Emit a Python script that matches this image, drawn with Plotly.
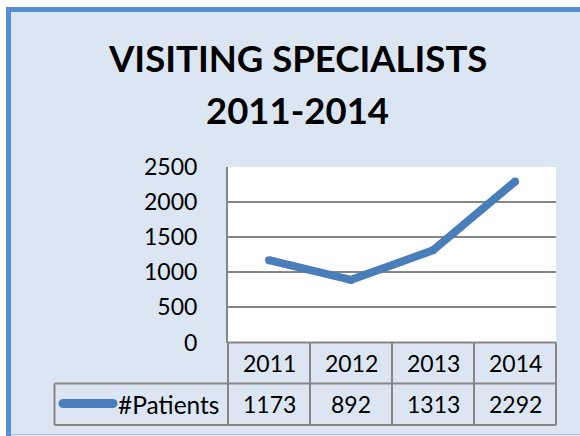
import plotly.graph_objects as go

# ---- data ----
years = ["2011", "2012", "2013", "2014"]
patients = [1173, 892, 1313, 2292]
series_name = "#Patients"
title_lines = ["VISITING SPECIALISTS", "2011-2014"]
y_ticks = [0, 500, 1000, 1500, 2000, 2500]

# ---- layout geometry (pixels) ----
W, H = 580, 436
L, R, T, B = 228, 24, 167, 11
PW, PH = W - L - R, H - T - B
plot_bottom = 342.5
row_mid = 383.5
table_left = 54.5


def px(x):
    return (x - L) / PW


def py(y):
    return (H - B - y) / PH


FONT = "Lato"
LINE_C = "#4a7ebb"
GRID_C = "#868686"
BLUE = "#558ed5"
BG = "#dce6f2"

fig = go.Figure()
fig.add_trace(go.Scatter(
    x=years, y=patients, mode="lines+markers", name=series_name,
    line=dict(color=LINE_C, width=8),
    marker=dict(color=LINE_C, size=8),
    showlegend=False, hoverinfo="x+y",
))

shapes = []
# outer white strips and blue border
shapes.append(dict(type="rect", xref="paper", yref="paper", x0=px(-5), x1=px(W + 5),
                   y0=py(7), y1=py(-5), fillcolor="white", line_width=0))
shapes.append(dict(type="rect", xref="paper", yref="paper", x0=px(-5), x1=px(6),
                   y0=py(H + 5), y1=py(-5), fillcolor="white", line_width=0))
shapes.append(dict(type="line", xref="paper", yref="paper", x0=px(6), x1=px(W + 5),
                   y0=py(9.5), y1=py(9.5), line=dict(color=BLUE, width=5)))
shapes.append(dict(type="line", xref="paper", yref="paper", x0=px(8.5), x1=px(8.5),
                   y0=py(7), y1=py(H + 5), line=dict(color=BLUE, width=5)))
shapes.append(dict(type="line", xref="paper", yref="paper", x0=px(11), x1=px(W + 5),
                   y0=py(434.5), y1=py(434.5), line=dict(color="#aec4e4", width=1)))

# data table grid
n = len(years)
tl = dict(color=GRID_C, width=2)
for i in range(n + 1):
    shapes.append(dict(type="line", xref="paper", yref="paper", x0=i / n, x1=i / n,
                       y0=0, y1=py(plot_bottom), line=tl))
shapes.append(dict(type="line", xref="paper", yref="paper", x0=px(table_left), x1=px(table_left),
                   y0=0, y1=py(row_mid), line=tl))
shapes.append(dict(type="line", xref="paper", yref="paper", x0=0, x1=1,
                   y0=py(plot_bottom), y1=py(plot_bottom), line=tl))
for yy in (row_mid, H - B):
    shapes.append(dict(type="line", xref="paper", yref="paper", x0=px(table_left), x1=1,
                       y0=py(yy), y1=py(yy), line=tl))

# legend key line with round ends
ky = 403.5
shapes.append(dict(type="line", xref="paper", yref="paper", x0=px(63), x1=px(113),
                   y0=py(ky), y1=py(ky), line=dict(color=LINE_C, width=9)))
for cx in (63, 113):
    shapes.append(dict(type="circle", xref="paper", yref="paper",
                       x0=px(cx - 4.5), x1=px(cx + 4.5), y0=py(ky + 4.5), y1=py(ky - 4.5),
                       fillcolor=LINE_C, line_width=0))

annotations = []
# title
for text, yc in zip(title_lines, (58, 109.5)):
    annotations.append(dict(text="<b>%s</b>" % text, xref="paper", yref="paper",
                            x=px(297), y=py(yc), xanchor="center", yanchor="middle",
                            showarrow=False, font=dict(family=FONT, size=36.5, color="black")))
# table texts
tf = dict(family=FONT, size=23, color="black")
for i, (yr, v) in enumerate(zip(years, patients)):
    annotations.append(dict(text=yr, xref="x", yref="paper", x=i, y=py(362.5),
                            xanchor="center", yanchor="middle", showarrow=False, font=tf))
    annotations.append(dict(text=str(v), xref="x", yref="paper", x=i, y=py(404),
                            xanchor="center", yanchor="middle", showarrow=False, font=tf))
annotations.append(dict(text=series_name, xref="paper", yref="paper", x=px(221), y=py(404),
                        xanchor="right", yanchor="middle", showarrow=False,
                        font=dict(family=FONT, size=24.5, color="black")))

fig.update_layout(
    width=W, height=H,
    margin=dict(l=L, r=R, t=T, b=B, pad=0, autoexpand=False),
    paper_bgcolor=BG, plot_bgcolor="white",
    shapes=shapes, annotations=annotations,
    xaxis=dict(type="category", range=[-0.5, n - 0.5], showticklabels=False,
               showgrid=False, zeroline=False, showline=False, fixedrange=True,
               automargin=False),
    yaxis=dict(domain=[py(plot_bottom), 1], range=[0, 2500], tickvals=y_ticks,
               showgrid=True, gridcolor=GRID_C, gridwidth=2, zeroline=False,
               showline=True, linecolor=GRID_C, linewidth=2, ticks="",
               ticklabelstandoff=24, tickfont=tf, fixedrange=True, automargin=False),
    showlegend=False,
)

fig.write_html("out.html", config={"displayModeBar": False},
               post_script="document.body.style.margin='0';document.body.style.overflow='hidden';")
